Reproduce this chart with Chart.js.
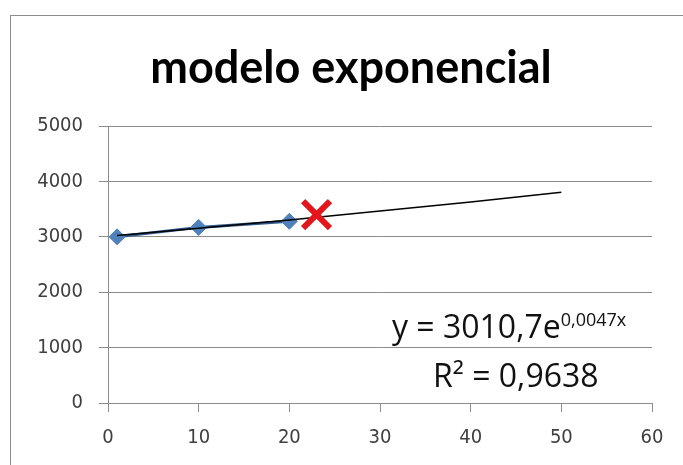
<!DOCTYPE html>
<html>
<head>
<meta charset="utf-8">
<script src="https://cdn.jsdelivr.net/npm/chart.js@4.4.0/dist/chart.umd.min.js"></script>
<style>
  html, body { margin: 0; padding: 0; background: #fff; overflow: hidden; }
  #wrap { position: relative; width: 683px; height: 465px; }
  #frame { position: absolute; left: 10px; top: 15px; width: 720px; height: 500px;
           border-left: 1.5px solid #8c8c8c; border-top: 1.5px solid #8c8c8c; box-sizing: border-box; }
  canvas { position: absolute; left: 0; top: 0; }
  .txt { position: absolute; white-space: nowrap; color: #000; }
  #title { left: 0; width: 702px; text-align: center; top: 44px; font: bold 45px Lato, sans-serif; line-height: 45px; }
  .eq { font-family: "Open Sans", sans-serif; font-size: 32px; line-height: 32px; color: #111; }
  .eq sup { font-size: 18px; vertical-align: 0; position: relative; top: -12px; }
</style>
</head>
<body>
<div id="wrap">
  <div id="frame"></div>
  <canvas id="c" width="683" height="465"></canvas>
  <div id="title" class="txt">modelo exponencial</div>
  <div id="eq1" class="txt eq" style="left:392px; top:310px;">y = 3010,7e<sup>0,0047x</sup></div>
  <div id="eq2" class="txt eq" style="left:433px; top:359px;">R² = 0,9638</div>
</div>
<script>
// observed data
const obsX = [1, 10, 20];
const obsY = [3000, 3170, 3280];
// predicted point (red X)
const predX = [23];
const predY = [3400];
// exponential trendline, values
const trendX = [1, 10, 20, 30, 40, 50];
const trendY = [3025, 3155, 3305, 3465, 3630, 3805];
// axis ticks
const xTicks = [0, 10, 20, 30, 40, 50, 60];
const yTicks = [0, 1000, 2000, 3000, 4000, 5000];

const toPts = (xs, ys) => xs.map((x, i) => ({ x: x, y: ys[i] }));
const gridGray = '#8c8c8c';
const tickFont = { family: '"Liberation Sans Narrow", "DejaVu Sans Condensed", "Open Sans", sans-serif', size: 20 };

new Chart(document.getElementById('c'), {
  type: 'scatter',
  data: {
    datasets: [
      {
        label: 'tendencia',
        data: toPts(trendX, trendY),
        showLine: true,
        borderColor: '#000',
        borderWidth: 1.5,
        pointRadius: 0,
        tension: 0,
        order: 1
      },
      {
        label: 'datos',
        data: toPts(obsX, obsY),
        showLine: true,
        borderColor: '#2F5A8F',
        borderWidth: 3,
        pointStyle: 'rectRot',
        pointRadius: 8,
        pointBackgroundColor: '#4F81BD',
        pointBorderColor: '#4F81BD',
        pointBorderWidth: 1,
        order: 2
      },
      {
        label: 'predicción',
        data: toPts(predX, predY),
        showLine: false,
        pointStyle: 'crossRot',
        pointRadius: 19,
        pointBorderColor: '#E3161C',
        pointBorderWidth: 6,
        order: 0
      }
    ]
  },
  options: {
    responsive: false,
    animation: false,
    events: [],
    layout: { padding: { left: 0, right: 31, top: 126, bottom: 0 } },
    plugins: { legend: { display: false }, title: { display: false }, tooltip: { enabled: false } },
    scales: {
      x: {
        type: 'linear',
        min: 0, max: 60,
        afterBuildTicks: s => { s.ticks = xTicks.map(v => ({ value: v })); },
        afterFit: s => { s.height = 62; },
        grid: { drawOnChartArea: false, drawTicks: true, tickLength: 9, color: gridGray, lineWidth: 1 },
        border: { display: true, color: gridGray, width: 1 },
        ticks: { font: tickFont, color: '#404040', padding: 14, maxRotation: 0 }
      },
      y: {
        type: 'linear',
        min: 0, max: 5000,
        afterBuildTicks: s => { s.ticks = yTicks.map(v => ({ value: v })); },
        afterFit: s => { s.width = 108; },
        grid: { drawOnChartArea: true, drawTicks: true, tickLength: 9, color: gridGray, lineWidth: 1 },
        border: { display: true, color: gridGray, width: 1 },
        ticks: { font: tickFont, color: '#404040', padding: 16, callback: v => String(v) }
      }
    }
  }
});
</script>
</body>
</html>
